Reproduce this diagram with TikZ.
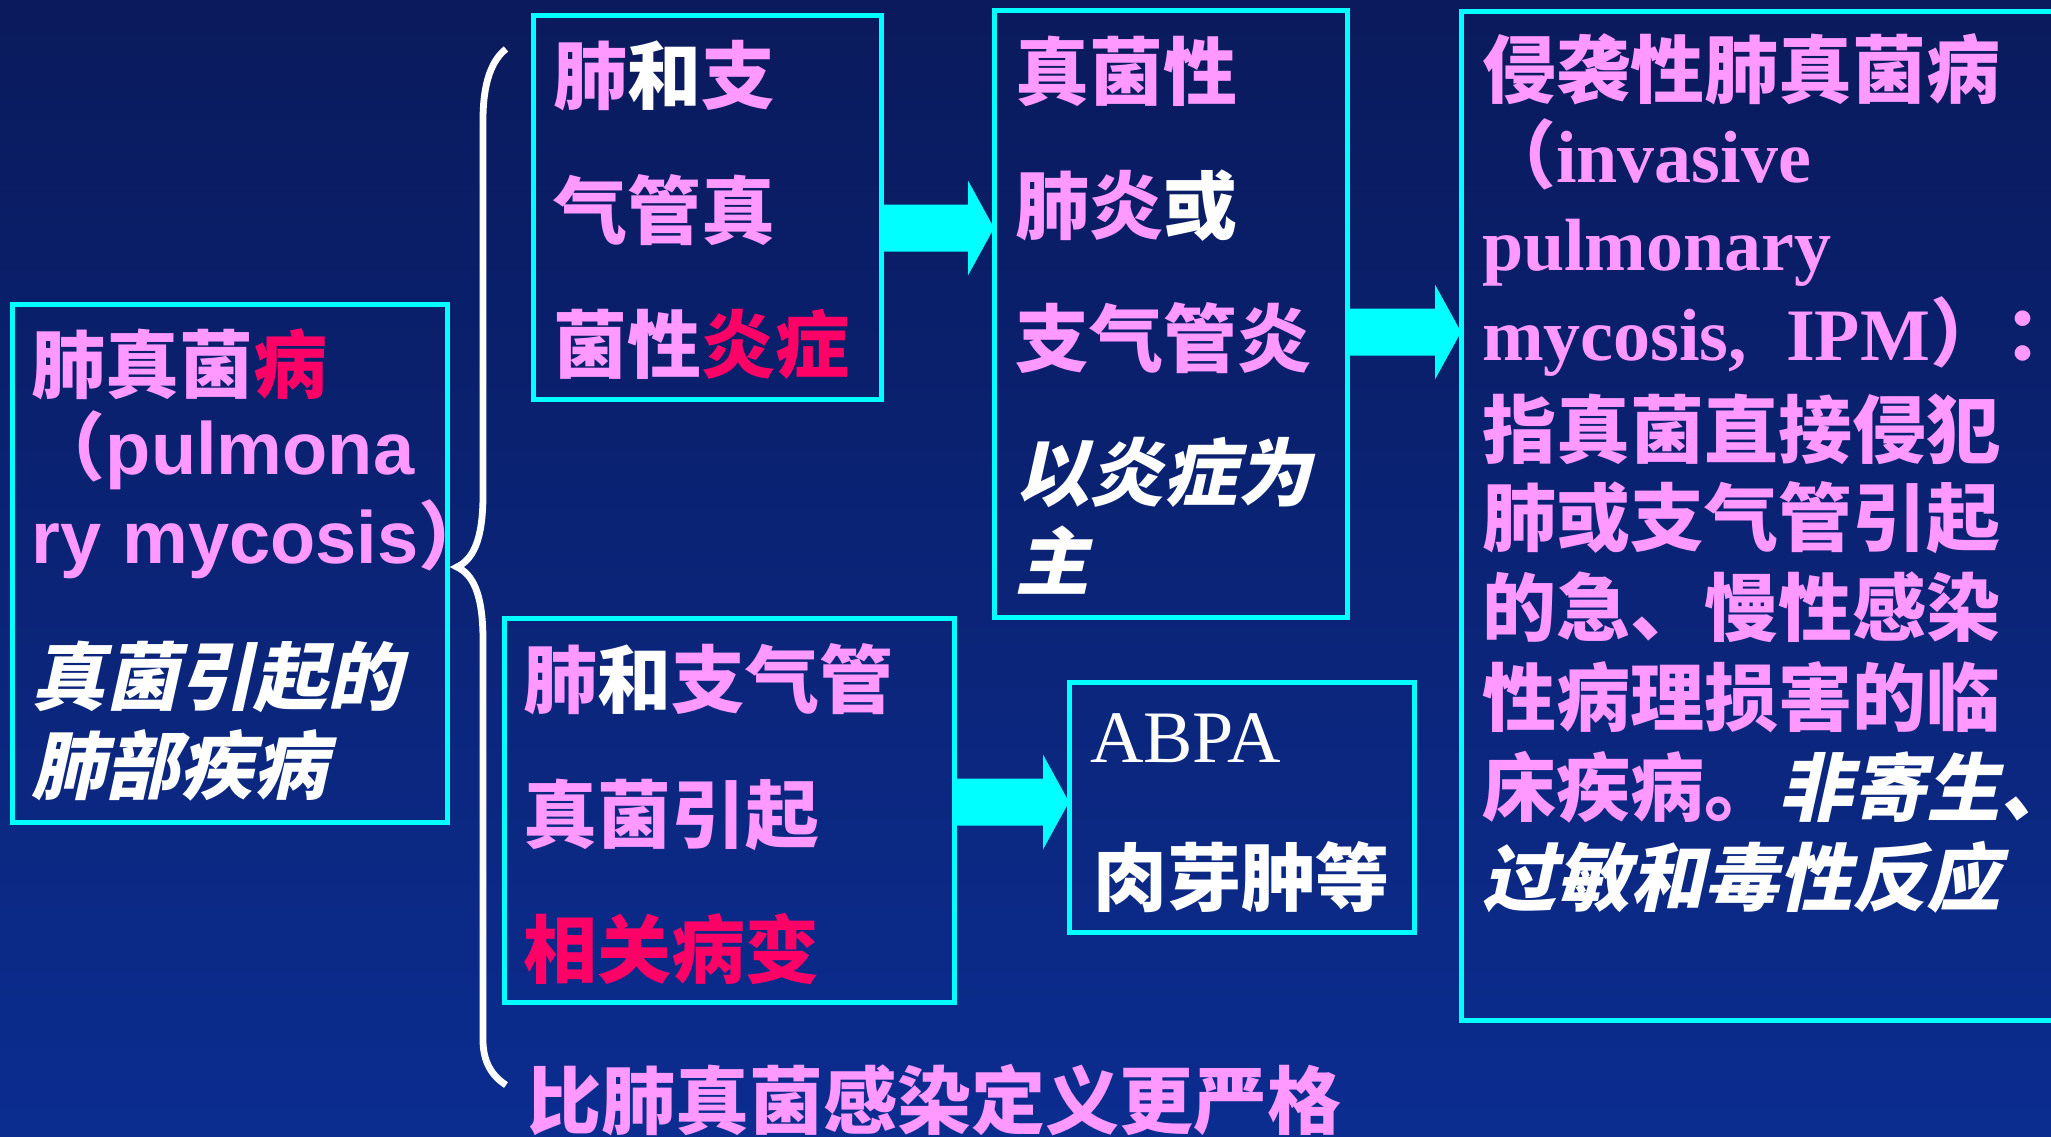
\documentclass[tikz,border=0pt]{standalone}
\usepackage{fontspec}
\usetikzlibrary{calc}
\newfontfamily\cjk{Noto Sans CJK SC}
\newfontfamily\cjkit{Noto Sans CJK SC}[FakeSlant=0.22]
\newfontfamily\arialb{Liberation Sans Bold}
\newfontfamily\tnrb{Liberation Serif Bold}
\newfontfamily\tnr{Liberation Serif}
\definecolor{bgtop}{HTML}{0A1A5C}
\definecolor{bgbot}{HTML}{0B2D90}
\definecolor{pk}{HTML}{FF99FF}
\definecolor{rd}{HTML}{FF0066}
\definecolor{cy}{HTML}{00FFFF}
\newcommand\fatarrow[2]{%
  \fill[cy] ($(#1)+(0,-23.5)$) -- ($(#2)+(-26,-23.5)$) -- ($(#2)+(-26,-47.5)$) -- (#2)
    -- ($(#2)+(-26,47.5)$) -- ($(#2)+(-26,23.5)$) -- ($(#1)+(0,23.5)$) -- cycle;}
\newcommand\wt[1]{\textcolor{white}{#1}}
\newcommand\rdt[1]{\textcolor{rd}{#1}}
\newcommand\itl[1]{{\cjkit\bfseries\color{white}#1}}
\newcommand\narrow[1]{\makebox[0.2em][l]{#1}}
\begin{document}
\begin{tikzpicture}[x=0.5pt,y=-0.5pt,
  box/.style={draw=cy, line width=2.5pt, rectangle, inner sep=0pt, outer sep=0pt},
  txt/.style={anchor=base west, inner sep=0pt, outer sep=0pt, text=pk,
    font=\fontsize{37pt}{44pt}\selectfont\cjk\bfseries},
  brace/.style={draw=white, line width=3.4pt}]
\useasboundingbox (0,0) rectangle (2051,1136);
\clip (0,0) rectangle (2051,1136);
\shade[top color=bgtop, bottom color=bgbot] (0,0) rectangle (2051,1136);

% boxes
\node[box, minimum width=217.5pt, minimum height=259pt] (A) at (229.5,563) {};
\node[box, minimum width=174pt, minimum height=192pt] (B) at (707,207) {};
\node[box, minimum width=176.5pt, minimum height=303.5pt] (C) at (1170.5,313.5) {};
\node[box, minimum width=304.5pt, minimum height=504.5pt] (D) at (1765.5,515.5) {};
\node[box, minimum width=225pt, minimum height=192pt] (E) at (729,810) {};
\node[box, minimum width=172.5pt, minimum height=125pt] (F) at (1241.5,807) {};

% brace
\draw[brace] (506,49) .. controls (492,60) and (483,82) .. (483,120) -- (483,495)
  .. controls (483,542) and (472,560) .. (457,567)
  .. controls (472,574) and (483,592) .. (483,640) -- (483,1040)
  .. controls (483,1062) and (492,1076) .. (506,1085);

% arrows
\coordinate (a1s) at (B.east |- 0,228);
\coordinate (a1e) at (C.west |- 0,228);
\coordinate (a2s) at (C.east |- 0,332);
\coordinate (a2e) at (D.west |- 0,332);
\coordinate (a3s) at (E.east |- 0,802);
\coordinate (a3e) at (F.west |- 0,802);
\fatarrow{a1s}{a1e}
\fatarrow{a2s}{a2e}
\fatarrow{a3s}{a3e}

% box A
\node[txt] (A1) at (32,392) {肺真菌\rdt{病}};
\node[txt] (A2) at (32,474) {（{\arialb pulmona}};
\node[txt] (A3) at (32,563) {{\arialb ry mycosis}）};
\node[txt] (A4) at (32,704) {\itl{真菌引起的}};
\node[txt] (A5) at (32,793) {\itl{肺部疾病}};

% box B
\node[txt] (B1) at (553,103) {肺\wt{和}支};
\node[txt] (B2) at (553,238) {气管真};
\node[txt] (B3) at (553,372) {菌性\rdt{炎症}};

% box C
\node[txt] (C1) at (1015,99) {真菌性};
\node[txt] (C2) at (1015,233) {肺炎\wt{或}};
\node[txt] (C3) at (1015,366) {支气管炎};
\node[txt] (C4) at (1015,500) {\itl{以炎症为}};
\node[txt] (C5) at (1015,589) {\itl{主}};

% box D
\node[txt] (D1) at (1482,97) {侵袭性肺真菌病};
\node[txt] (D2) at (1482,182) {（{\tnrb invasive}};
\node[txt] (D3) at (1482,270) {{\tnrb pulmonary}};
\node[txt] (D4) at (1482,360) {{\tnrb mycosis,\hspace{19.5pt}IPM}）\narrow{：}};
\node[txt] (D5) at (1482,457) {指真菌直接侵犯};
\node[txt] (D6) at (1482,545) {肺或支气管引起};
\node[txt] (D7) at (1482,635) {的急、慢性感染};
\node[txt] (D8) at (1482,725) {性病理损害的临};
\node[txt] (D9) at (1482,815) {床疾病。\itl{非寄生\narrow{、}}};
\node[txt] (D10) at (1482,905) {\itl{过敏和毒性反应}};

% box E
\node[txt] (E1) at (523,707) {肺\wt{和}支气管};
\node[txt] (E2) at (523,842) {真菌引起};
\node[txt] (E3) at (523,977) {\rdt{相关病变}};

% box F
\node[txt, text=white] (F1) at (1090,762) {{\tnr\mdseries ABPA}};
\node[txt, text=white] (F2) at (1093,905) {肉芽肿等};

% bottom line
\node[txt] (G1) at (527,1128) {比肺真菌感染定义更严格};
\end{tikzpicture}
\end{document}
